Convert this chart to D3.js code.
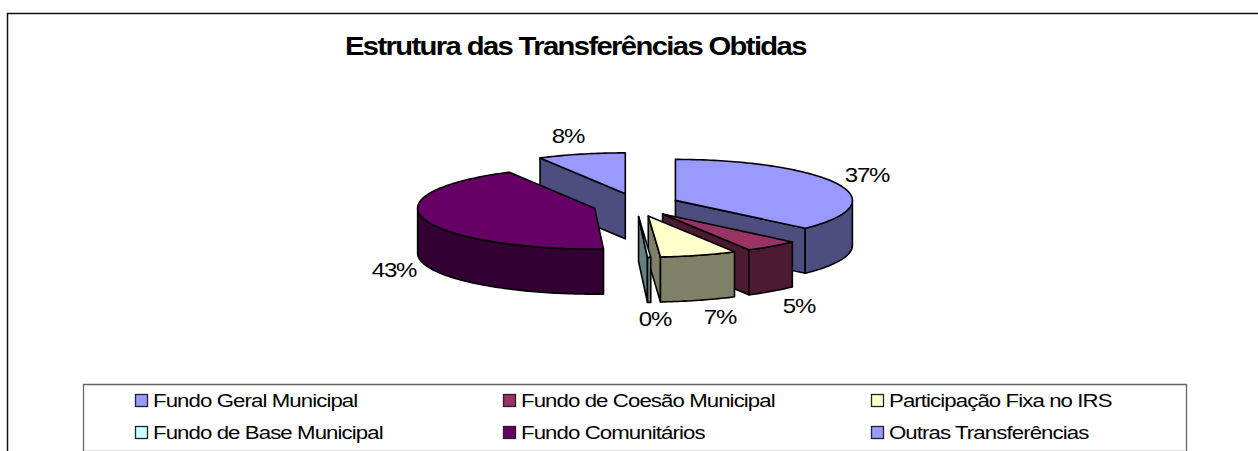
<!DOCTYPE html>
<html>
<head>
<meta charset="utf-8">
<script src="https://cdn.jsdelivr.net/npm/d3@7"></script>
<style>
  html, body { margin: 0; background: #fff; }
  text { font-family: "Liberation Sans", Arial, sans-serif; fill: #000; }
</style>
</head>
<body>
<div id="chart"></div>
<script>
// data
const categories = ["Fundo Geral Municipal", "Fundo de Coesão Municipal", "Participação Fixa no IRS",
  "Fundo de Base Municipal", "Fundo Comunitários", "Outras Transferências"];
const shares = [36.9, 5, 7, 0.3, 42.8, 8];
const topColors = ["#9999ff", "#993366", "#ffffcc", "#ccffff", "#660066", "#9999ff"];
const sideColors = ["#4d4d80", "#4d1a33", "#808066", "#668080", "#330033", "#4d4d80"];
const title = "Estrutura das Transferências Obtidas";

const width = 1258;
const height = 451;

// pie geometry
const centerX = 636, centerY = 205;
const rx = 177, ry = 41, depth = 45;
const explodeX = 43, explodeY = 11.5;

const svg = d3.select("#chart").append("svg")
  .attr("width", width)
  .attr("height", height)
  .style("display", "block");

// chart frame, cut by the right and bottom of the picture
svg.append("path")
  .attr("d", "M7.5,451V13.5H1258")
  .attr("fill", "none").attr("stroke", "#111").attr("stroke-width", 1.5);

// the original text is stretched sideways and tightly spaced
svg.append("text")
  .attr("transform", "translate(345,55) scale(1.17,1)")
  .attr("font-size", 25).attr("font-weight", "bold").attr("letter-spacing", -1.4)
  .text(title);

const total = d3.sum(shares);
const percent = d3.format(".0%");
const slices = d3.pie().sort(null).startAngle(0).endAngle(2 * Math.PI)(shares);

const line = d3.line();

function point(a, cx, cy, drop) {
  return [cx + rx * Math.sin(a), cy - ry * Math.cos(a) + (drop || 0)];
}
function arcPoints(a0, a1, cx, cy, drop) {
  const n = Math.max(2, Math.ceil(Math.abs(a1 - a0) / 0.02));
  return d3.range(n + 1).map(i => point(a0 + (a1 - a0) * i / n, cx, cy, drop));
}

// back slices first
const order = d3.range(slices.length).sort((a, b) => {
  const ma = (slices[a].startAngle + slices[a].endAngle) / 2;
  const mb = (slices[b].startAngle + slices[b].endAngle) / 2;
  return Math.cos(mb) - Math.cos(ma);
});

const pie = svg.append("g")
  .attr("stroke", "#000").attr("stroke-width", 1.6).attr("stroke-linejoin", "round");

order.forEach(i => {
  const s = slices[i];
  const mid = (s.startAngle + s.endAngle) / 2;
  const cx = centerX + explodeX * Math.sin(mid);
  const cy = centerY - explodeY * Math.cos(mid);
  const g = pie.append("g");

  // cut face at the start of the slice, seen only when it turns to the front
  if (Math.cos(s.startAngle - Math.PI / 2) < -0.01) {
    const o = point(s.startAngle, cx, cy);
    g.append("path").attr("fill", sideColors[i])
      .attr("d", line([[cx, cy], o, [o[0], o[1] + depth], [cx, cy + depth]]) + "Z");
  }
  // cut face at the end of the slice
  if (Math.cos(s.endAngle + Math.PI / 2) < -0.01) {
    const o = point(s.endAngle, cx, cy);
    g.append("path").attr("fill", sideColors[i])
      .attr("d", line([[cx, cy], o, [o[0], o[1] + depth], [cx, cy + depth]]) + "Z");
  }
  // outer wall, only the front half of the ellipse
  const a0 = Math.max(s.startAngle, Math.PI / 2);
  const a1 = Math.min(s.endAngle, 3 * Math.PI / 2);
  if (a1 > a0) {
    g.append("path").attr("fill", sideColors[i])
      .attr("d", line(arcPoints(a0, a1, cx, cy).concat(arcPoints(a1, a0, cx, cy, depth))) + "Z");
  }
  // top surface
  g.append("path").attr("fill", topColors[i])
    .attr("d", line([[cx, cy]].concat(arcPoints(s.startAngle, s.endAngle, cx, cy))) + "Z");
});

// percentage labels
const labelX = [867, 799, 720, 655, 394, 568];
const labelY = [182, 313, 324, 326, 277, 143];
svg.append("g").selectAll("text")
  .data(shares)
  .join("text")
    .attr("transform", (d, i) => `translate(${labelX[i]},${labelY[i]}) scale(1.2,1)`)
    .attr("text-anchor", "middle")
    .attr("font-size", 20).attr("letter-spacing", -1)
    .text(d => percent(d / total));

// legend box, its bottom edge falls on the last row of the picture
svg.append("path")
  .attr("d", "M83.5,451V384.5H1186.5V451")
  .attr("fill", "none").attr("stroke", "#666").attr("stroke-width", 1.3);
svg.append("line")
  .attr("x1", 84).attr("x2", 1186).attr("y1", 450.5).attr("y2", 450.5)
  .attr("stroke", "#ddd");

const legendX = [135, 503, 871];
const legendY = [400, 432];
const legend = svg.append("g").selectAll("g")
  .data(categories)
  .join("g")
    .attr("transform", (d, i) => `translate(${legendX[i % 3]},${legendY[Math.floor(i / 3)]})`);
legend.append("rect")
  .attr("x", 0.5).attr("y", -5.5).attr("width", 12).attr("height", 12)
  .attr("fill", (d, i) => topColors[i]).attr("stroke", "#222").attr("stroke-width", 1.3);
legend.append("text")
  .attr("transform", "translate(18,6.5) scale(1.2,1)")
  .attr("font-size", 18.5).attr("letter-spacing", -0.75)
  .text(d => d);
</script>
</body>
</html>
